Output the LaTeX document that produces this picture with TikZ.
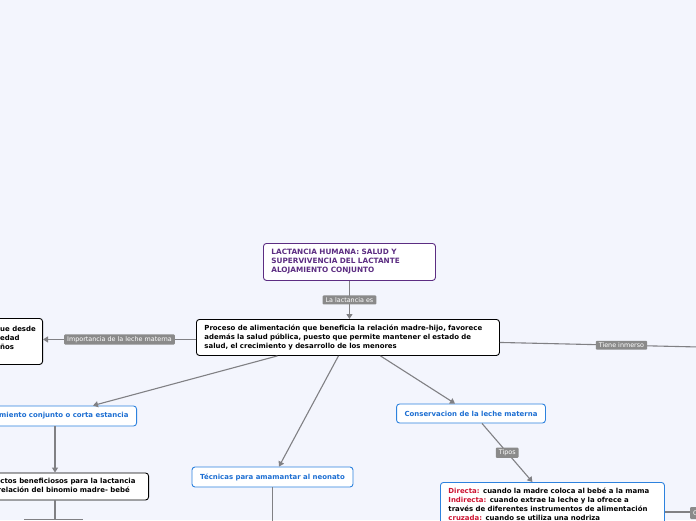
\documentclass[tikz,border=0pt]{standalone}
\usepackage{fontspec}
\setmainfont{DejaVu Sans}
\usetikzlibrary{arrows.meta}
\definecolor{bg}{RGB}{243,245,253}
\definecolor{conn}{RGB}{128,128,132}
\definecolor{lblgray}{RGB}{138,138,138}
\definecolor{ttl}{RGB}{92,45,130}
\definecolor{blu}{RGB}{28,110,210}
\definecolor{bluborder}{RGB}{45,130,222}
\definecolor{crim}{RGB}{205,20,50}
\begin{document}
\begin{tikzpicture}[x=1pt,y=-1pt,
  box/.style={draw=black, fill=white, rounded corners=3pt, line width=0.9pt,
    font=\fontsize{6.95}{9}\selectfont\bfseries, align=left, inner xsep=8pt, inner ysep=0pt},
  bbox/.style={box, draw=bluborder, text=blu},
  lbl/.style={fill=lblgray, text=white, font=\fontsize{6.4}{7}\selectfont,
    rounded corners=1pt, inner xsep=3pt, inner ysep=2pt},
  edge/.style={draw=conn, line width=1.1pt},
  arr/.style={edge, -{Triangle[length=5pt,width=6pt]}}]
\useasboundingbox (0,0) rectangle (696,520);
\fill[bg] (0,0) rectangle (696,520);
\clip (0,0) rectangle (696,520);

% nodes
\node[box, draw=ttl, text=ttl, font=\fontsize{7.3}{9}\selectfont\bfseries, minimum width=172pt, minimum height=37pt, text width=156pt, anchor=north west] (title) at (263,243)
  {LACTANCIA HUMANA: SALUD Y\\SUPERVIVENCIA DEL LACTANTE\\ALOJAMIENTO CONJUNTO};
\node[box, minimum width=303pt, minimum height=36pt, text width=287pt, anchor=north west] (main) at (196,319)
  {Proceso de alimentación que beneficia la relación madre-hijo, favorece\\además la salud pública, puesto que permite mantener el estado de\\salud, el crecimiento y desarrollo de los menores};
\node[box, minimum width=150pt, minimum height=46pt, anchor=north east] (imp) at (43,318) {};
\node[font=\fontsize{6.95}{9}\selectfont\bfseries, align=left, anchor=west, inner sep=0pt] (impt) at (0,337.5) {ue desde\\edad\\ños};
\node[bbox, anchor=east, minimum height=20pt] (aloj) at (137,416) {Alojamiento conjunto o corta estancia};
\node[box, anchor=east, minimum height=27pt, inner xsep=13pt] (asp) at (149,486.5)
  {Aspectos beneficiosos para la lactancia\\y la relación del binomio madre- bebé};
\node[bbox, minimum width=161pt, minimum height=20pt] (tec) at (272.5,477) {Técnicas para amamantar al neonato};
\node[bbox, minimum width=148pt, minimum height=19pt] (cons) at (471,413.5) {Conservacion de la leche materna};
\node[bbox, text=black, anchor=north west, minimum width=224pt, text width=208pt, inner ysep=5pt] (dir) at (440,482)
  {\textcolor{crim}{Directa:} cuando la madre coloca al bebé a la mama\\
   \textcolor{crim}{Indirecta:} cuando extrae la leche y la ofrece a\\
   través de diferentes instrumentos de alimentación\\
   \textcolor{crim}{cruzada:} cuando se utiliza una nodriza};

% connectors
\draw[arr] (title.south) -- node[lbl]{La lactancia es} (title.south |- main.north);
\draw[arr] ([yshift=-2pt]main.west) -- node[lbl]{Importancia de la leche materna} ([yshift=-2pt]main.west -| imp.east);
\coordinate (rt) at (743,348);
\draw[edge] ([yshift=-5pt]main.east) -- node[lbl]{Tiene inmerso} (rt);
\draw[arr] ([xshift=-70.5pt]main.south) -- ([xshift=-44pt]aloj.north east);
\draw[arr] ([xshift=-9.5pt]main.south) -- ([xshift=6.5pt]tec.north);
\draw[arr] ([xshift=32.5pt]main.south) -- ([xshift=-16pt]cons.north);
\draw[arr] ([xshift=-82pt]aloj.south east) -- ([xshift=-94pt]asp.north east);
\draw[edge] ([xshift=-94pt]asp.south east) -- ++(0,19) coordinate (fork);
\draw[edge] ([xshift=-31pt]fork) -- ([xshift=28pt]fork);
\draw[edge] (tec.south) -- ++(0,40);
\draw[arr] ([xshift=11pt]cons.south) -- node[lbl]{Tipos} ([xshift=-20pt]dir.north);
\coordinate (dr) at (760,512);
\draw[edge] (dir.east |- dr) -- (dr);
\node[lbl, anchor=west, minimum height=12pt] (clab) at (690,513) {C};
\end{tikzpicture}
\end{document}
